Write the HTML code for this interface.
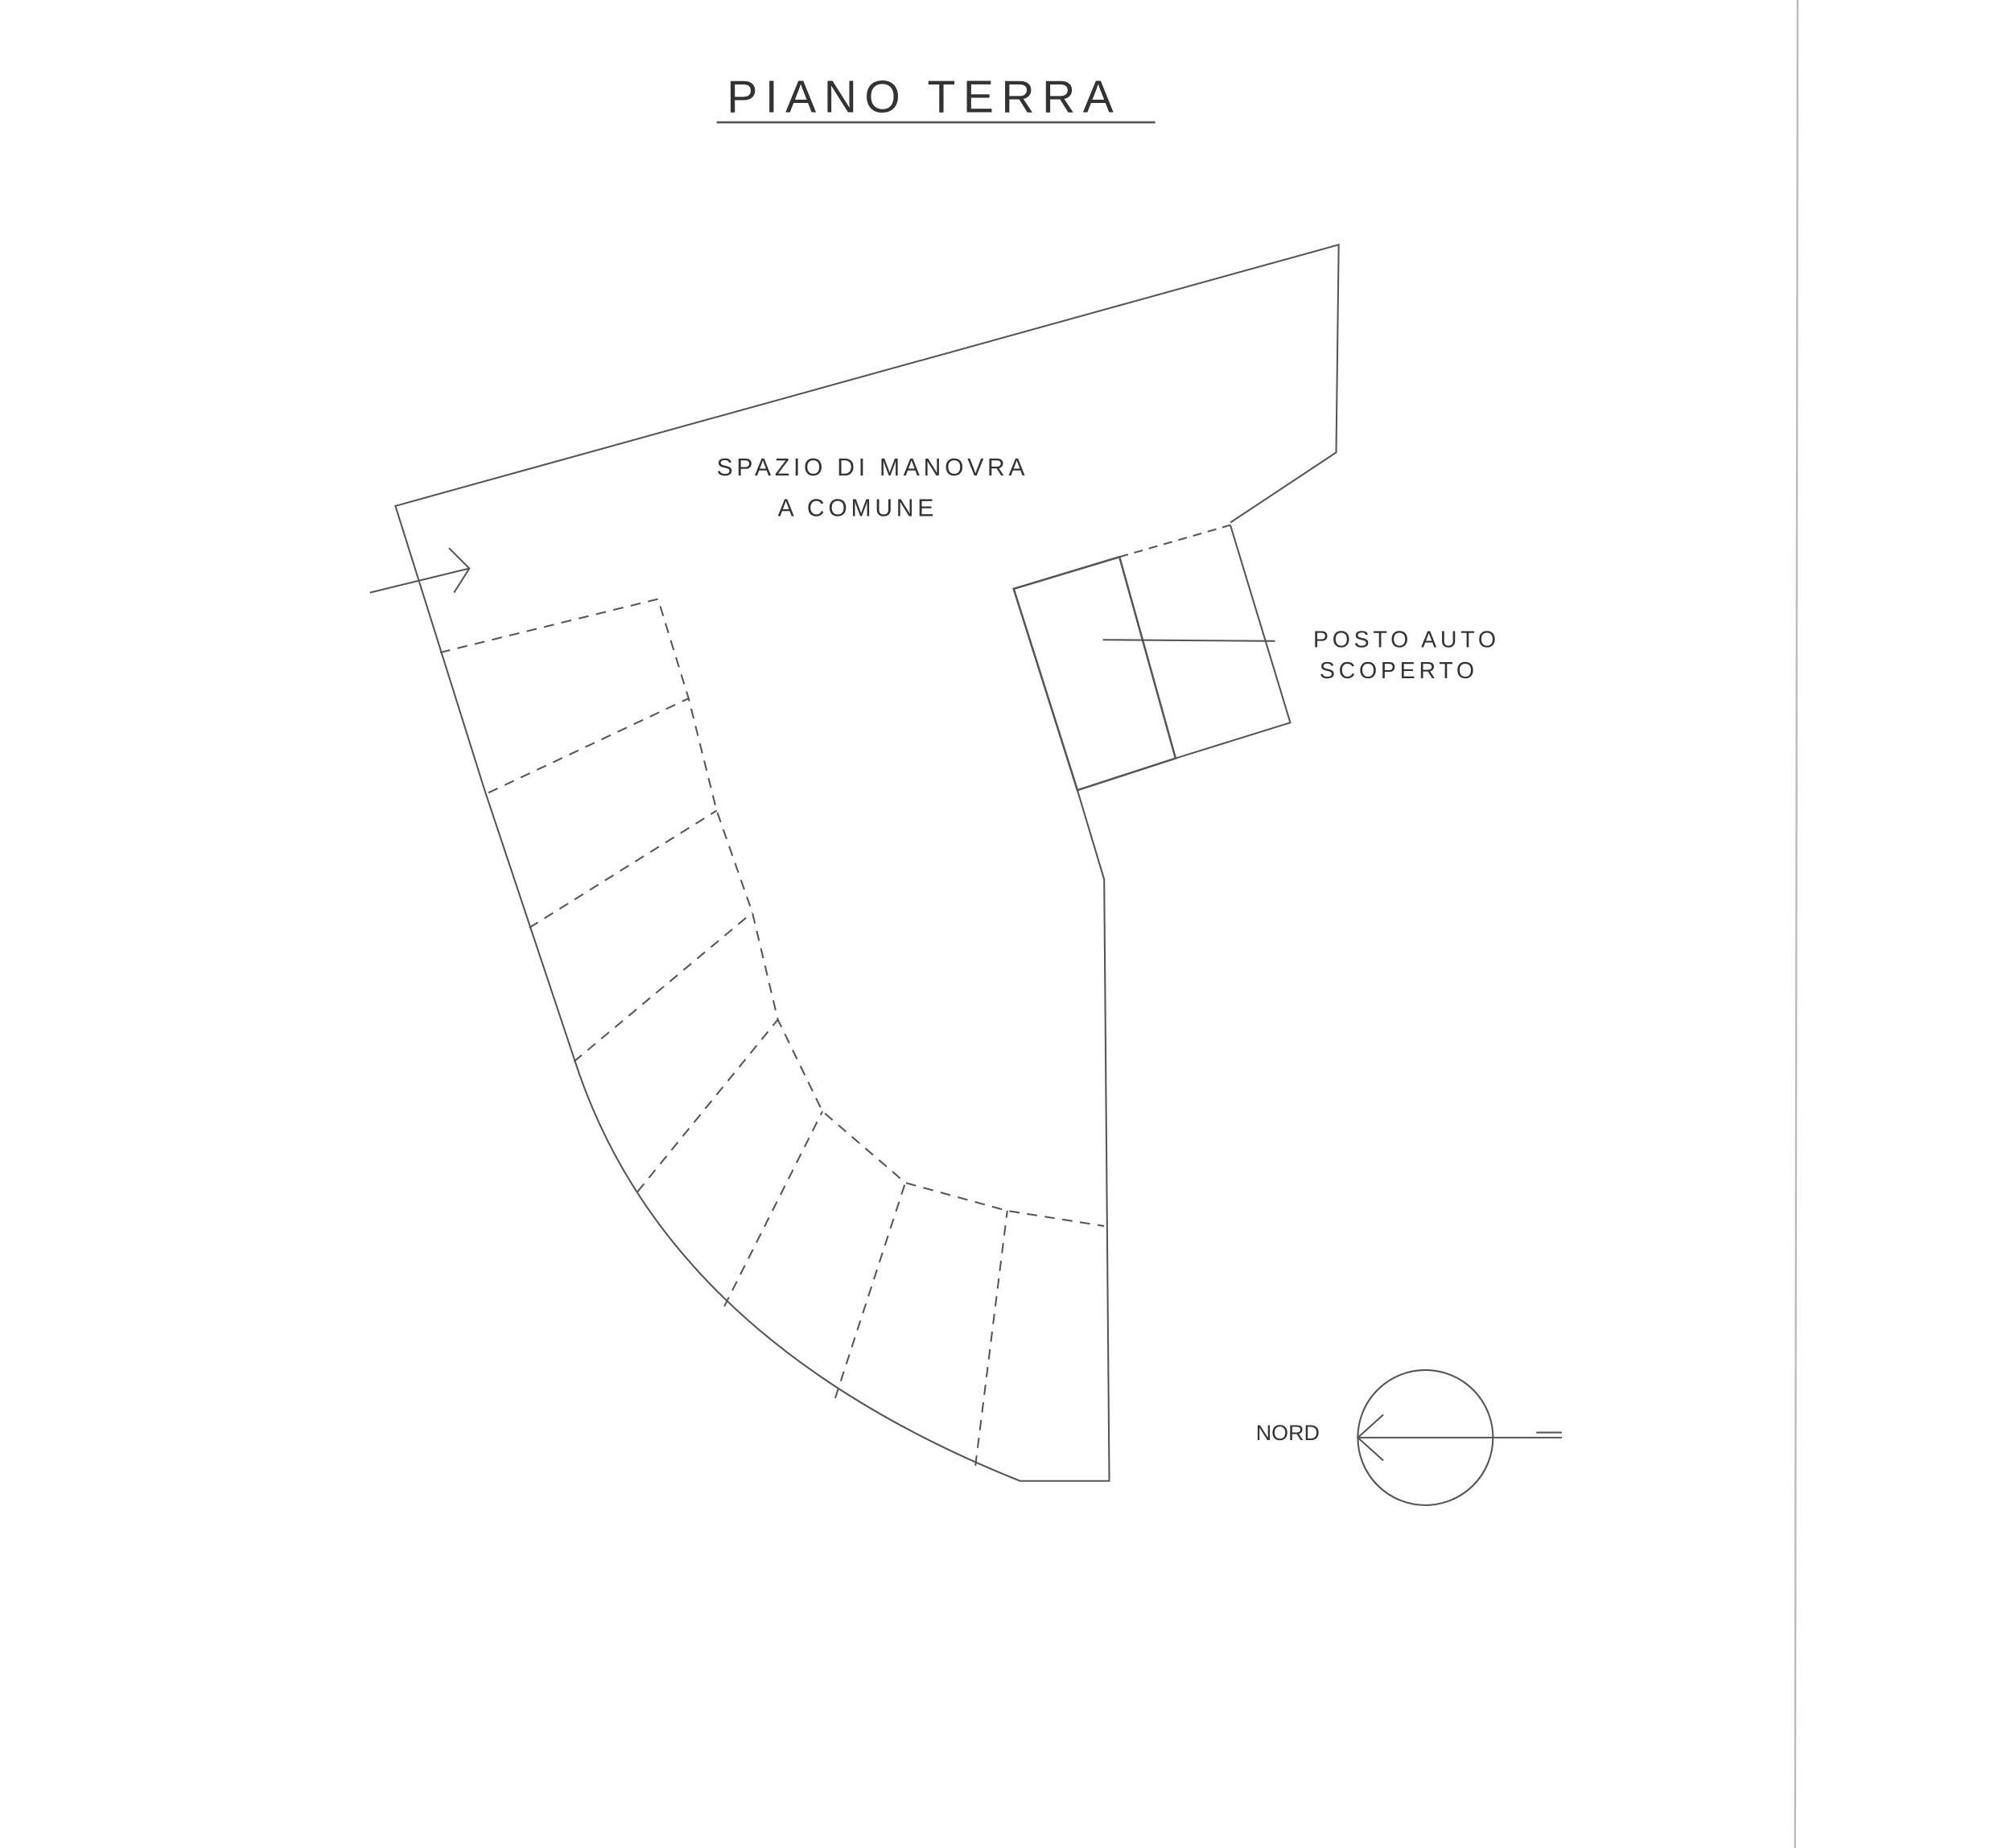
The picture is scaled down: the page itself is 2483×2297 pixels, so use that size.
<!DOCTYPE html>
<html><head><meta charset="utf-8"><style>
html,body{margin:0;padding:0;background:#fff;}
svg{display:block;}
text{font-family:"Liberation Sans",sans-serif;fill:#333;}
</style></head><body>
<svg width="2483" height="2297" viewBox="0 0 1567 1450" xmlns="http://www.w3.org/2000/svg">
<rect width="1567" height="1450" fill="#fff"/>
<g stroke="#555" stroke-width="1.3" fill="none">
<line x1="1410" y1="0" x2="1408" y2="1450" stroke="#bbb" stroke-width="1.5"/>
<line x1="562" y1="96" x2="906" y2="96" stroke-width="1.6"/>
<!-- outer -->
<polyline points="965,410 1048,355 1050,192 310,397 380,620 450,830"/>
<path d="M450,830 Q520,1050 800,1162 L870,1162 L866,690 L845,620"/>
<polyline points="795,462 845,620"/>
<!-- posto auto -->
<polygon points="795,462 878,437 922,595 845,620" stroke-width="1.6"/>
<polyline points="965,412 1012,567 922,595"/>
<line x1="878" y1="437" x2="965" y2="412" stroke-dasharray="7,5"/>
<!-- inner dashed -->
<g stroke-dasharray="8,6">
<polyline points="345,512 516,470 540,548 562,636 590,716 610,800 645,872 710,928 790,950 866,962"/>
<line x1="383" y1="622" x2="540" y2="548"/>
<line x1="415" y1="728" x2="562" y2="636"/>
<line x1="450" y1="833" x2="590" y2="716"/>
<line x1="500" y1="935" x2="610" y2="800"/>
<line x1="568" y1="1025" x2="645" y2="872"/>
<line x1="655" y1="1097" x2="710" y2="928"/>
<line x1="765" y1="1150" x2="790" y2="950"/>
</g>
<!-- entry arrow -->
<line x1="290" y1="465" x2="368" y2="446"/>
<polyline points="352,430 368,446 356,465"/>
<!-- leader -->
<line x1="865" y1="502" x2="1000" y2="503"/>
<!-- north -->
<circle cx="1118" cy="1128" r="53"/>
<line x1="1065" y1="1128" x2="1225" y2="1128"/>
<polyline points="1085,1110 1065,1128 1085,1146"/>
<line x1="1205" y1="1124" x2="1225" y2="1124"/>
</g>
<text x="570" y="88" font-size="36" letter-spacing="6">PIANO TERRA</text>
<text x="562" y="373" font-size="19" letter-spacing="3">SPAZIO DI MANOVRA</text>
<text x="610" y="405" font-size="19" letter-spacing="3">A COMUNE</text>
<text x="1030" y="508" font-size="18" letter-spacing="3">POSTO AUTO</text>
<text x="1035" y="532" font-size="18" letter-spacing="3">SCOPERTO</text>
<text x="985" y="1130" font-size="17">NORD</text>
</svg>
</body></html>
